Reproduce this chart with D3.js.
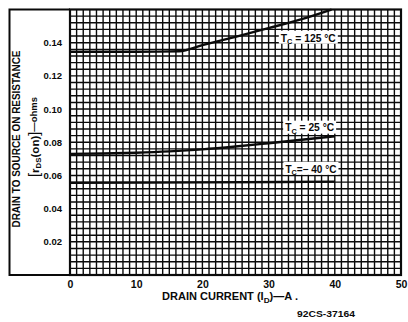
<!DOCTYPE html>
<html>
<head>
<meta charset="utf-8">
<script src="https://cdn.jsdelivr.net/npm/d3@7/dist/d3.min.js"></script>
<style>
  body { margin: 0; background: #fff; }
  svg { display: block; font-family: "Liberation Sans", Arial, sans-serif; font-weight: bold; }
</style>
</head>
<body>
<div id="chart"></div>
<script>
// values
var xTicks = [0, 10, 20, 30, 40, 50];
var yTicks = [0.02, 0.04, 0.06, 0.08, 0.10, 0.12, 0.14];
var yTickLabels = ["0.02", "0.04", "0.06", "0.08", "0.10", "0.12", "0.14"];

var id125 = [0, 10, 16.5, 20, 25, 30, 35, 39.5];
var r125 = [0.1345, 0.1345, 0.1348, 0.1385, 0.1435, 0.1488, 0.1542, 0.1600];
var id25 = [0, 5, 10, 15, 20, 25, 30, 35, 40];
var r25 = [0.0730, 0.0732, 0.0737, 0.0745, 0.0757, 0.0774, 0.0794, 0.0815, 0.0836];
var idM40 = [0, 20, 40];
var rM40 = [0.0555, 0.0558, 0.0563];

var seriesTemps = ["125", "25", "-40"];
var labelAt = [[36.0, 0.1430], [36.2, 0.0888], [36.4, 0.0640]];

var width = 408, height = 322;
var ink = "#0a0a0a";

var svg = d3.select("#chart").append("svg")
  .attr("width", width)
  .attr("height", height);

var x = d3.scaleLinear().domain([0, 50]).range([70, 401]);
var y = d3.scaleLinear().domain([0, 0.16]).range([275, 9.5]);

// fine graph-paper grid
var grid = svg.append("g").attr("stroke", ink).attr("stroke-width", 1.4);
grid.selectAll(".vg")
  .data(d3.range(1, 50))
  .enter().append("line")
  .attr("x1", function(d) { return x(d); })
  .attr("x2", function(d) { return x(d); })
  .attr("y1", y(0))
  .attr("y2", y(0.16));
grid.selectAll(".hg")
  .data(d3.range(1, 40).map(function(i) { return i * 0.004; }))
  .enter().append("line")
  .attr("y1", function(d) { return y(d); })
  .attr("y2", function(d) { return y(d); })
  .attr("x1", x(0))
  .attr("x2", x(50));

// frame around plot and y title
svg.append("rect")
  .attr("x", x(0)).attr("y", y(0.16))
  .attr("width", x(50) - x(0)).attr("height", y(0) - y(0.16))
  .attr("fill", "none").attr("stroke", ink).attr("stroke-width", 2.2);
svg.append("path")
  .attr("d", "M" + x(0) + "," + y(0.16) + "H9.5V" + y(0) + "H" + x(0))
  .attr("fill", "none").attr("stroke", ink).attr("stroke-width", 2);

// curves
var line = d3.line()
  .x(function(d) { return x(d[0]); })
  .y(function(d) { return y(d[1]); })
  .curve(d3.curveMonotoneX);

var curves = [d3.zip(id125, r125), d3.zip(id25, r25), d3.zip(idM40, rM40)];
svg.selectAll(".curve")
  .data(curves)
  .enter().append("path")
  .attr("class", "curve")
  .attr("d", line)
  .attr("fill", "none")
  .attr("stroke", ink)
  .attr("stroke-width", 2.4);

// curve labels on white patches
seriesTemps.forEach(function(t, i) {
  var cx = x(labelAt[i][0]), cy = y(labelAt[i][1]);
  var w = t === "125" ? 59 : (t === "25" ? 53 : 55);
  svg.append("rect")
    .attr("x", cx - w / 2).attr("y", cy - 7)
    .attr("width", w).attr("height", 13)
    .attr("fill", "#fff");
  var tx = svg.append("text")
    .attr("x", cx).attr("y", cy + 3.8)
    .attr("text-anchor", "middle")
    .attr("font-size", 10.5)
    .attr("textLength", w - 4)
    .attr("lengthAdjust", "spacingAndGlyphs")
    .attr("fill", ink);
  tx.append("tspan").text("T");
  tx.append("tspan").attr("font-size", 7.5).attr("dy", 2.5).text("C");
  tx.append("tspan").attr("dy", -2.5).text(t === "-40" ? "=\u2212 40 \u00b0C" : " = " + t + " \u00b0C");
});

// axes
var xAxis = svg.append("g")
  .attr("transform", "translate(0," + (y(0) + 3) + ")")
  .call(d3.axisBottom(x).tickValues(xTicks).tickSize(0).tickFormat(d3.format("d")));
xAxis.select(".domain").remove();
xAxis.selectAll("text")
  .attr("font-size", 10.5).attr("font-weight", "bold")
  .attr("font-family", "Liberation Sans, Arial, sans-serif")
  .attr("fill", ink);

var yAxis = svg.append("g")
  .attr("transform", "translate(" + (x(0) - 5) + ",0)")
  .call(d3.axisLeft(y).tickValues(yTicks).tickSize(0)
    .tickFormat(function(d, i) { return yTickLabels[i]; }));
yAxis.select(".domain").remove();
yAxis.selectAll("text")
  .attr("font-size", 9.5).attr("font-weight", "bold")
  .attr("font-family", "Liberation Sans, Arial, sans-serif")
  .attr("fill", ink);

// titles
svg.append("text")
  .attr("transform", "translate(19.5,139) rotate(-90)")
  .attr("text-anchor", "middle")
  .attr("font-size", 10)
  .attr("textLength", 177)
  .attr("lengthAdjust", "spacingAndGlyphs")
  .attr("fill", ink)
  .text("DRAIN TO SOURCE ON RESISTANCE");

var yt2 = svg.append("text")
  .attr("transform", "translate(38.5,137) rotate(-90)")
  .attr("text-anchor", "middle")
  .attr("font-size", 11)
  .attr("textLength", 80)
  .attr("lengthAdjust", "spacingAndGlyphs")
  .attr("fill", ink);
yt2.append("tspan").attr("font-size", 14).attr("font-weight", "normal").text("[");
yt2.append("tspan").text("r");
yt2.append("tspan").attr("font-size", 7.5).attr("dy", 2.5).text("DS");
yt2.append("tspan").attr("dy", -2.5).text("(on)");
yt2.append("tspan").attr("font-size", 14).attr("font-weight", "normal").text("]");
yt2.append("tspan").attr("font-size", 9).attr("dy", -2).text("\u2014ohms");

var xt = svg.append("text")
  .attr("x", 162).attr("y", 300)
  .attr("font-size", 10)
  .attr("textLength", 136)
  .attr("lengthAdjust", "spacingAndGlyphs")
  .attr("fill", ink);
xt.append("tspan").text("DRAIN CURRENT  (I");
xt.append("tspan").attr("font-size", 7.5).attr("dy", 2.5).text("D");
xt.append("tspan").attr("dy", -2.5).text(")\u2014A .");

svg.append("text")
  .attr("x", 297).attr("y", 316.5)
  .attr("font-size", 9.5)
  .attr("textLength", 58)
  .attr("lengthAdjust", "spacingAndGlyphs")
  .attr("fill", ink)
  .text("92CS-37164");
</script>
</body>
</html>
